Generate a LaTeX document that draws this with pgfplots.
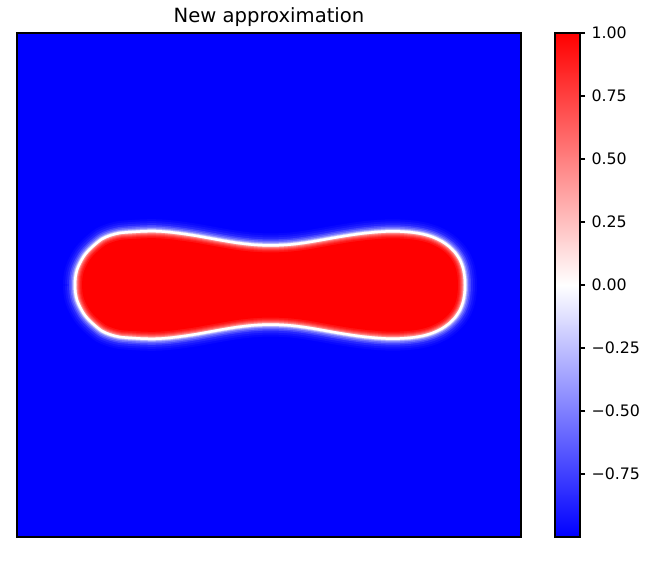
\documentclass[border=0pt]{standalone}
\usepackage{fontspec}
\setmainfont{DejaVu Sans}
\usepackage{pgfplots}
\pgfplotsset{compat=1.18}
\usepackage{pgfplotstable}

% zero-level contour (pixel x, height above the bottom of the picture)
\pgfplotstableread{
x y
75 281
75.5 289
77 296
80 303
84 310
89 316
95 321.5
102 327
110 330.5
120 333
132 334
145 334.7
158 334.7
170 333.8
183 332.2
196 330.2
210 327.7
224 325.2
238 323
252 321.4
266 320.6
278 320.7
292 321.6
306 323.4
320 325.7
334 328.2
348 330.5
362 332.5
375 333.8
388 334.6
400 334.5
412 333.6
423 331.8
433 328.8
442 324.5
449 319.5
455 313.5
460 306
463 298
464.5 290
465 281
464.5 272
463 264
460 256
455 248.5
449 242.5
442 237.5
433 233.2
423 230.2
412 228.4
400 227.5
388 227.4
375 228.2
362 229.5
348 231.5
334 233.8
320 236.3
306 238.6
292 240.4
278 241.3
266 241.4
252 240.6
238 239
224 236.8
210 234.3
196 231.8
183 229.8
170 228.2
158 227.3
145 227.3
132 228
120 229
110 231.5
102 235
95 240.5
89 246
84 252
80 259
77 266
75.5 273
75 281
}\shape

% edge of the fully red core (about 7 px inside the zero level)
\pgfplotstableread{
x y
82 281
82.5 288.1
83.7 293.8
86.2 299.9
89.8 306
94 311.2
99.5 316.2
105.6 320.9
112.2 323.8
121.1 326.2
132.5 327
145.2 327.7
157.7 327.7
169.4 326.8
182.1 325.2
194.9 323.4
208.8 320.9
222.9 318.4
237.1 316
251.4 314.4
265.8 313.6
278.3 313.7
292.6 314.6
307.1 316.4
321.2 318.9
335.2 321.4
349.1 323.7
362.8 325.5
375.6 326.8
388.2 327.6
399.7 327.5
411.2 326.6
421.4 325
430.5 322.3
438.4 318.4
444.5 314.2
449.6 309.1
453.8 302.7
456.3 296.1
457.5 289.2
458 281
457.5 272.8
456.3 265.9
453.8 259.3
449.6 252.9
444.5 247.8
438.4 243.6
430.5 239.7
421.4 237
411.2 235.4
399.7 234.5
388.2 234.4
375.6 235.2
362.8 236.5
349.1 238.3
335.2 240.6
321.2 243.1
307.1 245.6
292.6 247.4
278.3 248.3
265.8 248.4
251.4 247.6
237.1 246
222.9 243.6
208.8 241.1
194.9 238.6
182.1 236.8
169.4 235.2
157.7 234.3
145.2 234.3
132.5 235
121.1 235.8
112.2 238.2
105.6 241.1
99.5 245.8
94 250.8
89.8 256
86.2 262.1
83.7 268.2
82.5 273.9
82 281
}\core

\begin{document}
\begin{tikzpicture}
\useasboundingbox (0,0) rectangle (648bp,566bp);
\begin{axis}[
  at={(17bp,29bp)}, anchor=south west,
  scale only axis, width=504bp, height=504bp,
  xmin=17, xmax=521, ymin=29, ymax=533,
  xtick=\empty, ytick=\empty,
  axis line style={black, line width=1.1bp},
  axis background/.style={fill=blue},
  title={New approximation},
  title style={at={(0.5,1)}, anchor=base, yshift=5bp, font=\fontsize{19.6bp}{23bp}\selectfont},
  colormap={bwr}{rgb255=(0,0,255) rgb255=(255,255,255) rgb255=(255,0,0)},
  point meta min=-1, point meta max=1,
  colorbar,
  colorbar/width=25bp,
  colorbar shift/.style={},
  colorbar style={
    at={(parent axis.north east)}, anchor=north west, xshift=34bp,
    width=25bp,
    axis line style={black, line width=1.1bp},
    ytick={-0.75,-0.5,-0.25,0,0.25,0.5,0.75,1},
    yticklabels={−0.75,−0.50,−0.25,0.00,0.25,0.50,0.75,1.00},
    yticklabel pos=right, ytick pos=right,
    tick align=outside, major tick length=5bp,
    tick style={black, line width=1.1bp},
    yticklabel style={font=\fontsize{15.8bp}{18bp}\selectfont, xshift=3bp},
  },
]
% outer halo (blue, whitening towards the edge)
\addplot[draw=blue!97!white, line width=24bp, smooth] table {\shape};
\addplot[draw=blue!92!white, line width=20bp, smooth] table {\shape};
\addplot[draw=blue!85!white, line width=16bp, smooth] table {\shape};
\addplot[draw=blue!72!white, line width=12bp, smooth] table {\shape};
\addplot[draw=blue!58!white, line width=9bp, smooth] table {\shape};
\addplot[draw=blue!40!white, line width=6bp, smooth] table {\shape};
\addplot[draw=blue!22!white, line width=4bp, smooth] table {\shape};
% inside
\addplot[fill=red!20!white, draw=none, smooth] table {\shape};
\addplot[draw=red!28!white, line width=13bp, smooth] table {\core};
\addplot[draw=red!45!white, line width=11bp, smooth] table {\core};
\addplot[draw=red!62!white, line width=9bp, smooth] table {\core};
\addplot[draw=red!74!white, line width=7bp, smooth] table {\core};
\addplot[draw=red!84!white, line width=5bp, smooth] table {\core};
\addplot[draw=red!92!white, line width=3bp, smooth] table {\core};
\addplot[fill=red, draw=none, smooth] table {\core};
% white rim at the zero level
\addplot[draw=white, line width=2.5bp, smooth] table {\shape};
\end{axis}
\end{tikzpicture}
\end{document}
